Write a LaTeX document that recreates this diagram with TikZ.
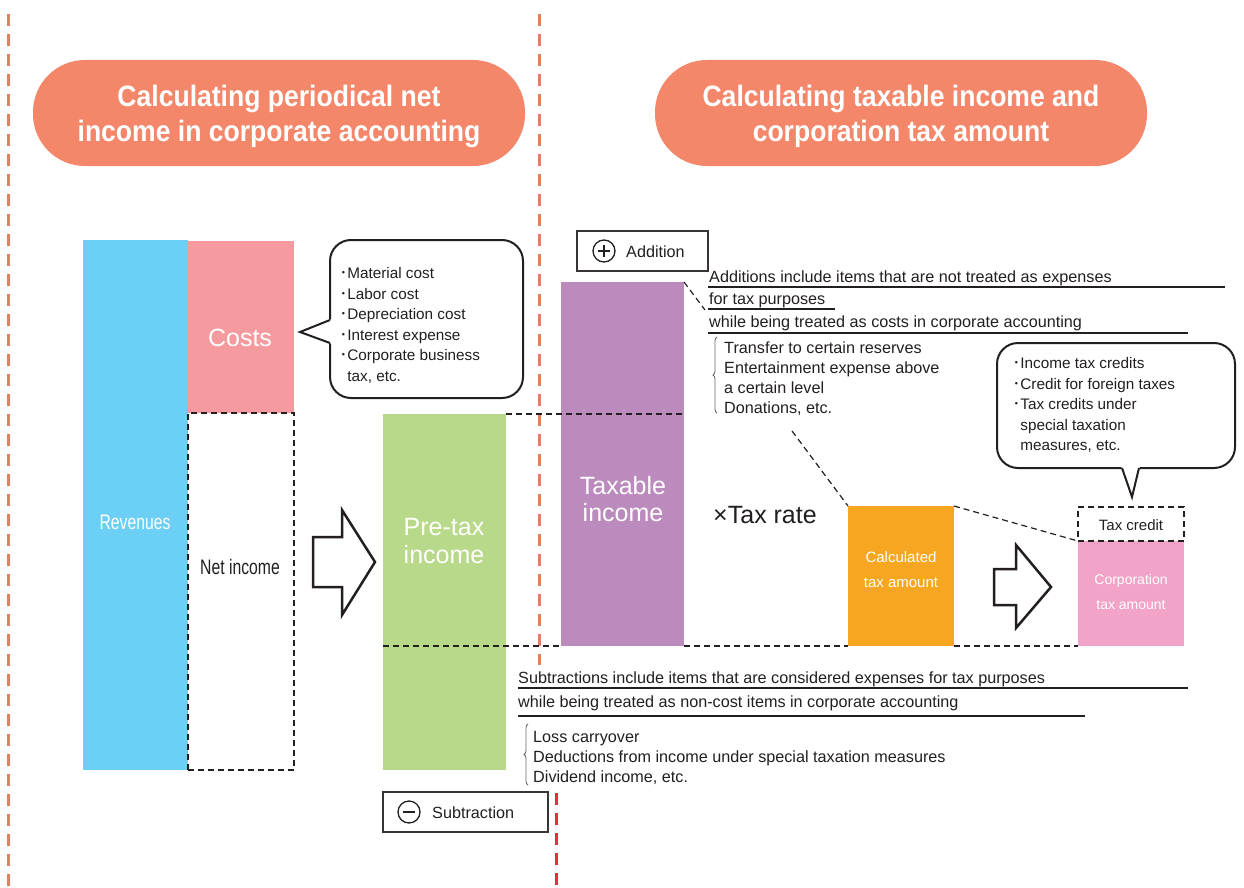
\documentclass[tikz,border=0pt]{standalone}
\usepackage{fontspec}
\setmainfont{Liberation Sans}
\newfontfamily\headfont[FakeStretch=0.9]{Liberation Sans}
\newfontfamily\condfont[FakeStretch=0.75]{Liberation Sans}
\newfontfamily\cjkfont{Noto Sans CJK JP}
\usetikzlibrary{decorations.pathreplacing}
\definecolor{pill}{HTML}{F4866A}
\definecolor{divline}{HTML}{E17F63}
\definecolor{redline}{HTML}{EE2A38}
\definecolor{revblue}{HTML}{6CCFF6}
\definecolor{costpink}{HTML}{F59A9E}
\definecolor{pregreen}{HTML}{B9D98A}
\definecolor{taxpurple}{HTML}{BC8BBE}
\definecolor{calcorange}{HTML}{F7A621}
\definecolor{corppink}{HTML}{F2A3C8}
\definecolor{ink}{HTML}{231F20}
\newcommand{\bul}{{\cjkfont ･}}
\begin{document}
\begin{tikzpicture}[x=1pt, y=-1pt,
  bar/.style={rectangle, inner sep=0pt, outer sep=0pt, anchor=north west},
  pillbox/.style={fill=pill, rounded corners=52pt, minimum width=492pt, minimum height=106pt,
    text=white, align=center, inner sep=0pt, font=\headfont\bfseries\fontsize{29.5}{35}\selectfont},
  divider/.style={line width=3pt, dash pattern=on 12pt off 8pt},
  guide/.style={draw=ink, line width=1.2pt, dash pattern=on 6pt off 4pt},
  bigarrow/.style={draw=ink, line width=2.5pt, fill=white, line join=miter, miter limit=10},
  bubble/.style={draw=ink, line width=2pt, fill=white},
  lbl/.style={inner sep=0pt, anchor=base west, text=ink, font=\fontsize{16.2}{16}\selectfont},
  btxt/.style={inner sep=0pt, anchor=base west, text=ink, font=\fontsize{15.3}{16}\selectfont},
  underl/.style={draw=ink, line width=1.2pt},
  wlabel/.style={text=white, align=center, inner sep=0pt},
  framebox/.style={bar, draw=ink!90, line width=1.3pt},
  signcircle/.style={circle, draw=ink, line width=1.3pt, minimum size=22pt, inner sep=0pt},
  bracestyle/.style={draw=black!60, line width=0.8pt, decorate, decoration={brace, amplitude=4pt}}
]
\useasboundingbox (0,0) rectangle (1244,888);
\fill[white] (0,0) rectangle (1244,888);

% dividers
\coordinate (d1t) at (8,14); \coordinate (d1b) at (8,888);
\coordinate (d2t) at (539,14); \coordinate (d2b) at (539,665);
\coordinate (d3t) at (556,793); \coordinate (d3b) at (556,888);
\draw[divider, draw=divline] (d1t) -- (d1b);
\draw[divider, draw=divline] (d2t) -- (d2b);
\draw[divider, draw=redline] (d3t) -- (d3b);

% headers
\node[pillbox, minimum height=106pt] (head1) at (279,113) {};
\node[pillbox, minimum height=106pt] (head2) at (901,113) {};
\node[text=white, align=center, inner sep=0pt, font=\headfont\bfseries\fontsize{29.5}{35}\selectfont] (head1t) at (279,116) {Calculating periodical net\\income in corporate accounting};
\node[text=white, align=center, inner sep=0pt, font=\headfont\bfseries\fontsize{29.5}{35}\selectfont] (head2t) at (901,116) {Calculating taxable income and\\corporation tax amount};

% bars
\node[bar, fill=revblue, minimum width=105pt, minimum height=530pt] (rev) at (83,240) {};
\node[bar, fill=costpink, minimum width=106pt, minimum height=172pt] (cost) at (188,241) {};
\node[bar, draw=ink, line width=1.3pt, dash pattern=on 6pt off 4pt, minimum width=106pt, minimum height=357pt] (net) at (188,413) {};
\node[bar, fill=pregreen, minimum width=123pt, minimum height=356pt] (pre) at (383,414) {};
\node[bar, fill=taxpurple, minimum width=123pt, minimum height=364pt] (taxable) at (561,282) {};
\node[bar, fill=calcorange, minimum width=106pt, minimum height=140pt] (calc) at (848,506) {};
\node[bar, fill=corppink, minimum width=106pt, minimum height=105pt] (corp) at (1078,541) {};
\node[bar, draw=ink, line width=1.5pt, dash pattern=on 6pt off 4pt, minimum width=106pt, minimum height=34pt] (credit) at (1078,507) {};

% guide lines
\draw[guide] (pre.north east) -- (taxable.east |- pre.north);
\draw[guide] (pre.west |- taxable.south) -- (taxable.south west);
\draw[guide] (taxable.south east) -- (calc.south west);
\draw[guide] (calc.south east) -- (corp.south west);
\coordinate (addlink) at (705,310);
\coordinate (brlink) at (792,431);
\draw[guide] (taxable.north east) -- (addlink);
\draw[guide] (brlink) -- (calc.north west);
\draw[guide] (calc.north east) -- (credit.south west);

% bar labels
\node[wlabel, font=\condfont\fontsize{21}{21}\selectfont] (revt) at (135,522) {Revenues};
\node[wlabel, font=\fontsize{25}{25}\selectfont] (costt) at (240,338) {Costs};
\node[inner sep=0pt, text=ink, font=\condfont\fontsize{21}{21}\selectfont] (nett) at (240,567) {Net income};
\node[wlabel, font=\fontsize{25}{28}\selectfont] (pret) at (444,541) {Pre-tax\\income};
\node[wlabel, font=\fontsize{25}{27}\selectfont] (taxt) at (623,499) {Taxable\\income};
\node[inner sep=0pt, text=ink, font=\fontsize{25}{25}\selectfont] (rate) at (765,515) {×Tax rate};
\node[wlabel, font=\fontsize{15}{25}\selectfont] (calct) at (901,570) {Calculated\\tax amount};
\node[wlabel, font=\fontsize{14}{25}\selectfont] (corpt) at (1131,592) {Corporation\\tax amount};
\node[inner sep=0pt, text=ink, font=\fontsize{15}{15}\selectfont] (creditt) at (1131,525) {Tax credit};

% big arrows
\draw[bigarrow] (313,537) -- (342,537) -- (342,510) -- (375,562) -- (342,615) -- (342,587) -- (313,587) -- cycle;
\draw[bigarrow] (994,569) -- (1016,569) -- (1016,545) -- (1051,587) -- (1016,628) -- (1016,605) -- (994,605) -- cycle;

% callout 1
\node[bar, bubble, rounded corners=21pt, minimum width=193pt, minimum height=158pt] (call1) at (330,240) {};
\fill[white] (332,319) -- (300,332) -- (332,344) -- cycle;
\draw[draw=ink, line width=2pt, line join=miter] (330,320) -- (300,332) -- (330,343);
\node[btxt] (m1) at (339.5,278.5) {\bul Material cost};
\node[btxt] (m2) at (339.5,299) {\bul Labor cost};
\node[btxt] (m3) at (339.5,319.5) {\bul Depreciation cost};
\node[btxt] (m4) at (339.5,340) {\bul Interest expense};
\node[btxt] (m5) at (339.5,360.5) {\bul Corporate business};
\node[btxt] (m6) at (339.5,381) {\hphantom{\bul}tax, etc.};

% callout 2
\node[bar, bubble, rounded corners=21pt, minimum width=238pt, minimum height=125pt] (call2) at (997,343) {};
\fill[white] (1121,466) -- (1132,497) -- (1140,466) -- cycle;
\draw[draw=ink, line width=2pt, line join=miter] (1122,468) -- (1132,497) -- (1139,468);
\node[btxt] (n1) at (1012.5,368.5) {\bul Income tax credits};
\node[btxt] (n2) at (1012.5,389) {\bul Credit for foreign taxes};
\node[btxt] (n3) at (1012.5,409.5) {\bul Tax credits under};
\node[btxt] (n4) at (1012.5,430) {\hphantom{\bul}special taxation};
\node[btxt] (n5) at (1012.5,450.5) {\hphantom{\bul}measures, etc.};

% addition
\node[framebox, minimum width=131pt, minimum height=40pt] (addbox) at (577,231) {};
\node[signcircle] (plus) at (604,251) {};
\draw[line width=1.5pt, draw=ink] ([xshift=-6pt]plus.center) -- ([xshift=6pt]plus.center)
  ([yshift=-6pt]plus.center) -- ([yshift=6pt]plus.center);
\node[lbl] (addt) at (626,257) {Addition};

\node[lbl] (a1) at (709,282) {Additions include items that are not treated as expenses};
\node[lbl] (a2) at (709,304) {for tax purposes};
\node[lbl] (a3) at (709,327) {while being treated as costs in corporate accounting};
\draw[underl] (708,287) -- (1225,287);
\draw[underl] (708,309) -- (835,309);
\draw[underl] (708,333) -- (1188,333);
\draw[bracestyle] (717,413) -- (717,337);
\node[lbl] (b1) at (724,353) {Transfer to certain reserves};
\node[lbl] (b2) at (724,373) {Entertainment expense above};
\node[lbl] (b3) at (724,393) {a certain level};
\node[lbl] (b4) at (724,413) {Donations, etc.};

% subtraction
\node[framebox, minimum width=165pt, minimum height=40pt] (subbox) at (383,792) {};
\node[signcircle] (minus) at (409,812) {};
\draw[line width=1.8pt, draw=ink] ([xshift=-6pt]minus.center) -- ([xshift=6pt]minus.center);
\node[lbl] (subt) at (432,818) {Subtraction};

\node[lbl] (s1) at (518,683) {Subtractions include items that are considered expenses for tax purposes};
\node[lbl] (s2) at (518,707) {while being treated as non-cost items in corporate accounting};
\draw[underl] (518,688) -- (1188,688);
\draw[underl] (518,716) -- (1085,716);
\draw[bracestyle] (528,785) -- (528,724);
\node[lbl] (t1) at (533,742) {Loss carryover};
\node[lbl] (t2) at (533,762) {Deductions from income under special taxation measures};
\node[lbl] (t3) at (533,782) {Dividend income, etc.};
\end{tikzpicture}
\end{document}
